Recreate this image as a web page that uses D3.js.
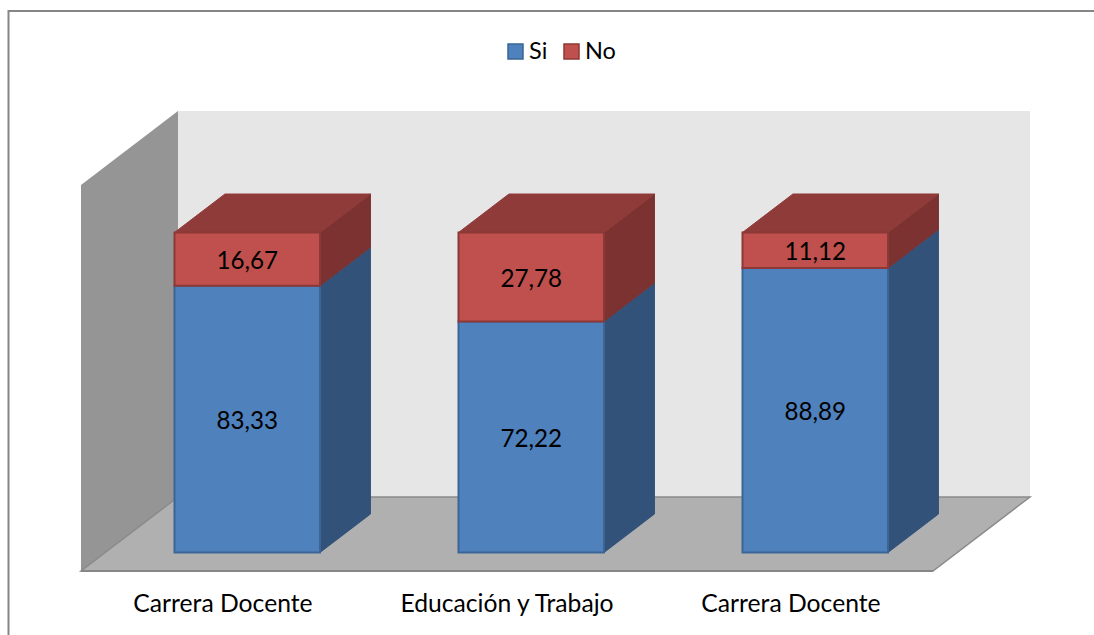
<!DOCTYPE html>
<html>
<head>
<meta charset="utf-8">
<script src="https://cdn.jsdelivr.net/npm/d3@7"></script>
<style>
html, body { margin: 0; padding: 0; background: #fff; overflow: hidden; }
text { font-family: Lato, "Open Sans", sans-serif; fill: #000; }
</style>
</head>
<body>
<svg width="1094" height="635"></svg>
<script>
var categories = ["Carrera Docente", "Educación y Trabajo", "Carrera Docente"];
var seriesNames = ["Si", "No"];
var siValues = [83.33, 72.22, 88.89];
var noValues = [16.67, 27.78, 11.12];
var valueLabels = {Si: ["83,33", "72,22", "88,89"], No: ["16,67", "27,78", "11,12"]};

var axisTop = 120.6;
var colors = {
    Si: {front: "#4f81bd", side: "#32527a", top: "#3e6797", line: "#3a6596"},
    No: {front: "#c0504d", side: "#7b3230", top: "#8f3b39", line: "#8c3836"}
};

var svg = d3.select("svg");

// outer frame: only the top and left edges fall inside the picture
svg.append("path")
    .attr("d", "M1094,11H8.5V635")
    .attr("fill", "none").attr("stroke", "#868686").attr("stroke-width", 2);

// Hidden axes of the 3D box: x along the front edge, y for height, z goes into the page
var scaleX = d3.scaleBand().domain(d3.range(categories.length)).range([81, 933]);
var scaleY = d3.scaleLinear().domain([0, 100]).range([571, 251]);
var scaleZ = d3.scaleLinear().domain([0, 1]).range([0, 97]);
var scaleZy = d3.scaleLinear().domain([0, 1]).range([0, -74]);

var pt = function(x, v, z) {
    return [x + scaleZ(z), scaleY(v) + scaleZy(z)];
};
var path = function(points) {
    return "M" + points.map(function(p) { return p[0] + "," + p[1]; }).join("L") + "Z";
};

var x0 = scaleX.range()[0], x1 = scaleX.range()[1];

// back wall
svg.append("path")
    .attr("d", path([pt(x0, 0, 1), pt(x1, 0, 1), pt(x1, axisTop, 1), pt(x0, axisTop, 1)]))
    .attr("fill", "#e6e6e6");
// left wall
svg.append("path")
    .attr("d", path([pt(x0, 0, 0), pt(x0, 0, 1), pt(x0, axisTop, 1), pt(x0, axisTop, 0)]))
    .attr("fill", "#959595");
// floor
svg.append("path")
    .attr("d", path([pt(x0, 0, 0), pt(x1, 0, 0), pt(x1, 0, 1), pt(x0, 0, 1)]))
    .attr("fill", "#b0b0b0").attr("stroke", "#8a8a8a").attr("stroke-width", 1.5);
svg.append("line")
    .attr("x1", x0).attr("x2", x1)
    .attr("y1", scaleY(0)).attr("y2", scaleY(0))
    .attr("stroke", "#868686").attr("stroke-width", 2);

// stacked bars
var stackRows = categories.map(function(c, i) { return {Si: siValues[i], No: noValues[i], i: i}; });
var stacked = d3.stack().keys(seriesNames)(stackRows);

var zNear = 0.25, zFar = 0.77;
var barGap = 69.25;

var barLeft = function(i) { return scaleX(i) + barGap; };
var barRight = function(i) { return scaleX(i) + scaleX.bandwidth() - barGap; };

stacked.forEach(function(layer) {
    var c = colors[layer.key];
    var g = svg.append("g").attr("class", "series-" + layer.key);

    g.selectAll("path.side").data(layer).enter().append("path")
        .attr("class", "side")
        .attr("d", function(d, i) {
            return path([pt(barRight(i), d[0], zNear), pt(barRight(i), d[0], zFar),
                pt(barRight(i), d[1], zFar), pt(barRight(i), d[1], zNear)]);
        })
        .attr("fill", c.side).attr("stroke", c.side).attr("stroke-width", 1);

    g.selectAll("path.top").data(layer).enter().append("path")
        .attr("class", "top")
        .attr("d", function(d, i) {
            return path([pt(barLeft(i), d[1], zNear), pt(barRight(i), d[1], zNear),
                pt(barRight(i), d[1], zFar), pt(barLeft(i), d[1], zFar)]);
        })
        .attr("fill", c.top).attr("stroke", c.top).attr("stroke-width", 1);

    g.selectAll("path.front").data(layer).enter().append("path")
        .attr("class", "front")
        .attr("d", function(d, i) {
            return path([pt(barLeft(i), d[0], zNear), pt(barRight(i), d[0], zNear),
                pt(barRight(i), d[1], zNear), pt(barLeft(i), d[1], zNear)]);
        })
        .attr("fill", c.front).attr("stroke", c.line).attr("stroke-width", 2);

    g.selectAll("text").data(layer).enter().append("text")
        .attr("x", function(d, i) { return pt((barLeft(i) + barRight(i)) / 2, 0, zNear)[0]; })
        .attr("y", function(d) { return pt(0, (d[0] + d[1]) / 2, zNear)[1]; })
        .attr("dy", "0.42em")
        .attr("text-anchor", "middle")
        .attr("font-size", 24.2)
        .text(function(d, i) { return valueLabels[layer.key][i]; });
});

// category labels
svg.selectAll("text.cat").data(categories).enter().append("text")
    .attr("class", "cat")
    .attr("x", function(d, i) { return scaleX(i) + scaleX.bandwidth() / 2; })
    .attr("y", 612)
    .attr("text-anchor", "middle")
    .attr("font-size", 24.7)
    .text(function(d) { return d; });

// legend
var legend = svg.append("g").attr("class", "legend");
var legendX = d3.scaleOrdinal().domain(seriesNames).range([508, 564]);
seriesNames.forEach(function(name) {
    legend.append("rect")
        .attr("x", legendX(name)).attr("y", 44)
        .attr("width", 15).attr("height", 15)
        .attr("fill", colors[name].front).attr("stroke", colors[name].line).attr("stroke-width", 1.5);
    legend.append("text")
        .attr("x", legendX(name) + 21).attr("y", 59)
        .attr("font-size", 23.5)
        .text(name);
});
</script>
</body>
</html>
